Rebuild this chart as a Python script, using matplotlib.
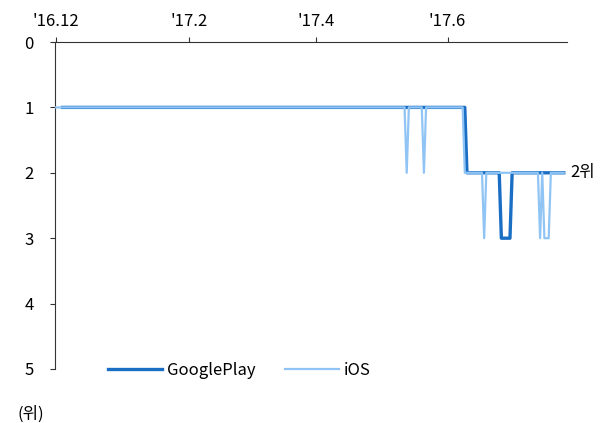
import matplotlib
matplotlib.use("Agg")
import matplotlib.pyplot as plt
import pandas as pd

plt.rcParams['font.family'] = ['Noto Sans CJK KR', 'DejaVu Sans']

# daily app ranking, stored as runs: (first day, last day, rank)
google_runs = [
    ("2016-12-04", "2017-06-09", 1),
    ("2017-06-10", "2017-06-25", 2),
    ("2017-06-26", "2017-06-30", 3),
    ("2017-07-01", "2017-07-25", 2),
]
ios_runs = [
    ("2016-12-01", "2017-05-12", 1),
    ("2017-05-13", "2017-05-13", 2),
    ("2017-05-14", "2017-05-20", 1),
    ("2017-05-21", "2017-05-21", 2),
    ("2017-05-22", "2017-06-08", 1),
    ("2017-06-09", "2017-06-17", 2),
    ("2017-06-18", "2017-06-18", 3),
    ("2017-06-19", "2017-07-13", 2),
    ("2017-07-14", "2017-07-14", 3),
    ("2017-07-15", "2017-07-15", 2),
    ("2017-07-16", "2017-07-18", 3),
    ("2017-07-19", "2017-07-25", 2),
]
tick_dates = ["2016-12-01", "2017-02-01", "2017-04-01", "2017-06-01"]
tick_labels = ["'16.12", "'17.2", "'17.4", "'17.6"]


def expand(runs):
    parts = []
    for start, end, rank in runs:
        idx = pd.date_range(start, end, freq="D")
        parts.append(pd.Series(rank, index=idx))
    return pd.concat(parts)


google = expand(google_runs)
ios = expand(ios_runs)

fig = plt.figure(figsize=(6.09, 4.23), dpi=100)
ax = fig.add_axes([0.0903, 0.1277, 0.8407, 0.773])

ax.plot(google.index, google.values, color="#1a6fc4", lw=2.4, label="GooglePlay", zorder=2)
ax.plot(ios.index, ios.values, color="#90c4f4", lw=1.6, label="iOS", zorder=3)

ax.set_ylim(5, 0)
ax.set_yticks(range(6))
ax.set_xlim(pd.Timestamp("2016-11-30 12:00"), pd.Timestamp("2017-07-26 12:00"))
ax.set_xticks(pd.to_datetime(tick_dates))
ax.set_xticklabels(tick_labels)
ax.xaxis.tick_top()

for side in ("right", "bottom"):
    ax.spines[side].set_visible(False)
for side in ("top", "left"):
    ax.spines[side].set_color("#333333")
    ax.spines[side].set_linewidth(0.8)
ax.tick_params(axis="both", labelsize=12, length=3.5, width=0.8, color="#333333")
ax.tick_params(axis="y", pad=12)
ax.tick_params(axis="x", pad=5)

# final rank label at the right end
ax.annotate("2위", xy=(ios.index[-1], ios.values[-1]), xytext=(5, 0),
            textcoords="offset points", va="center", fontsize=12)
fig.text(0.028, 0.01, "(위)", fontsize=12)

ax.legend(loc="lower left", bbox_to_anchor=(0.075, -0.075), ncol=2, frameon=False,
          fontsize=12, handlelength=3.2, handletextpad=0.3, columnspacing=1.8)

fig.savefig("out.png", dpi=100)
